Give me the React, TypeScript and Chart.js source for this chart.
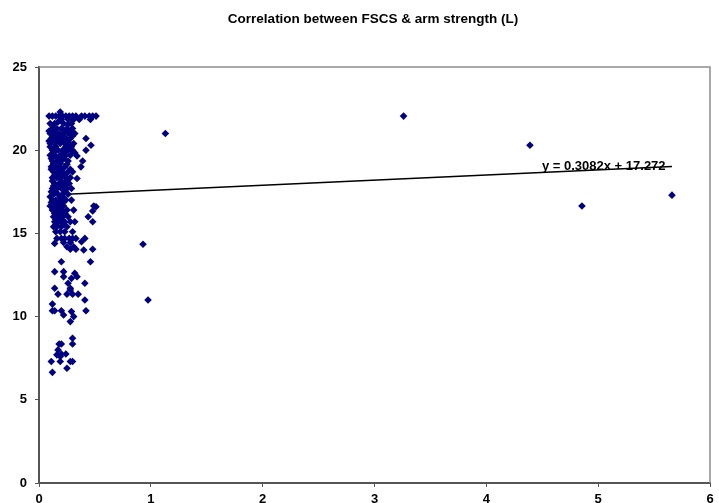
import React, { useEffect, useRef } from "react";
import { Chart, registerables } from "chart.js";

Chart.register(...registerables);

const TITLE = "Correlation between FSCS & arm strength (L)";

// Dense upper group: [FSCS, arm strength]
const upperGroup: [number, number][] = [
  [0.19, 22.3],
  [0.09, 22.05], [0.12, 22.05], [0.15, 22.05], [0.18, 22.05], [0.21, 22.05], [0.24, 22.05], [0.27, 22.05],
  [0.3, 22.05], [0.33, 22.05], [0.38, 22.05], [0.41, 22.05], [0.45, 22.05], [0.48, 22.05], [0.51, 22.05],
  [0.2, 21.85], [0.26, 21.85], [0.31, 21.85], [0.36, 21.85], [0.46, 21.85],
  [0.1, 21.6], [0.14, 21.6], [0.22, 21.6], [0.29, 21.6], [0.17, 21.7], [0.26, 21.55],
  [0.12, 21.3], [0.16, 21.3], [0.2, 21.3], [0.25, 21.3], [0.3, 21.3],
  [0.09, 21.15], [0.14, 21.15], [0.23, 21.15], [0.28, 21.15],
  [0.1, 21.0], [0.13, 21.0], [0.18, 21.0], [0.22, 21.0], [0.26, 21.0], [0.29, 21.0], [0.32, 21.0],
  [0.12, 20.85], [0.17, 20.85], [0.21, 20.85], [0.3, 20.85],
  [0.11, 20.7], [0.15, 20.7], [0.2, 20.7], [0.24, 20.7], [0.28, 20.7], [0.42, 20.7],
  [0.09, 20.55], [0.13, 20.55], [0.17, 20.55], [0.22, 20.55], [0.26, 20.55],
  [0.1, 20.4], [0.14, 20.4], [0.19, 20.4], [0.23, 20.4], [0.27, 20.4], [0.31, 20.4], [0.465, 20.3],
  [0.1, 20.2], [0.15, 20.2], [0.24, 20.2], [0.29, 20.2],
  [0.12, 20.0], [0.17, 20.0], [0.21, 20.0], [0.26, 20.0], [0.3, 20.0], [0.42, 20.0],
  [0.13, 19.85], [0.22, 19.85], [0.32, 19.85],
  [0.1, 19.7], [0.14, 19.7], [0.19, 19.7], [0.24, 19.7], [0.28, 19.7], [0.34, 19.65],
  [0.11, 19.5], [0.17, 19.5], [0.22, 19.5],
  [0.12, 19.35], [0.16, 19.35], [0.2, 19.35], [0.26, 19.35], [0.39, 19.35],
  [0.13, 19.2], [0.19, 19.2], [0.25, 19.15],
  [0.11, 19.0], [0.15, 19.0], [0.18, 19.0], [0.23, 19.0], [0.375, 19.0],
  [0.11, 18.85], [0.2, 18.85], [0.28, 18.85],
  [0.13, 18.7], [0.17, 18.7], [0.21, 18.7], [0.26, 18.7], [0.3, 18.7],
  [0.14, 18.5], [0.19, 18.5], [0.23, 18.5],
  [0.12, 18.35], [0.16, 18.35], [0.19, 18.35], [0.24, 18.35], [0.28, 18.35], [0.34, 18.3],
  [0.12, 18.15], [0.2, 18.15], [0.25, 18.2],
  [0.14, 18.0], [0.18, 18.0], [0.22, 18.0], [0.27, 18.0],
  [0.13, 17.85], [0.19, 17.85], [0.23, 17.85],
  [0.12, 17.7], [0.16, 17.7], [0.2, 17.7], [0.25, 17.7], [0.29, 17.7],
  [0.11, 17.5], [0.15, 17.5], [0.23, 17.5],
  [0.13, 17.35], [0.17, 17.35], [0.21, 17.35], [0.26, 17.35],
  [0.1, 17.2], [0.19, 17.2], [0.22, 17.15],
  [0.12, 17.0], [0.15, 17.0], [0.19, 17.0], [0.24, 17.0], [0.29, 17.0],
  [0.11, 16.85], [0.17, 16.85], [0.21, 16.85],
];

// Middle group
const middleGroup: [number, number][] = [
  [0.1, 16.65], [0.14, 16.65], [0.18, 16.65], [0.22, 16.65], [0.49, 16.65],
  [0.12, 16.4], [0.16, 16.4], [0.2, 16.4], [0.25, 16.4], [0.31, 16.4], [0.48, 16.35], [0.51, 16.6],
  [0.14, 16.2], [0.19, 16.2], [0.23, 16.2],
  [0.13, 16.0], [0.17, 16.0], [0.21, 16.0], [0.26, 16.0], [0.44, 16.0],
  [0.15, 15.85], [0.2, 15.85],
  [0.14, 15.7], [0.19, 15.7], [0.23, 15.7], [0.28, 15.7], [0.32, 15.7], [0.48, 15.7],
  [0.15, 15.55], [0.22, 15.55],
  [0.13, 15.4], [0.16, 15.4], [0.2, 15.4], [0.25, 15.4],
  [0.15, 15.1], [0.19, 15.1], [0.23, 15.1], [0.3, 15.1],
  [0.16, 14.7], [0.2, 14.7], [0.23, 14.7], [0.27, 14.7], [0.3, 14.7], [0.33, 14.7], [0.41, 14.7],
  [0.14, 14.4], [0.22, 14.45], [0.28, 14.45], [0.38, 14.5],
  [0.25, 14.2], [0.31, 14.2],
  [0.28, 14.05], [0.33, 14.05], [0.4, 14.0], [0.48, 14.05],
];

// Lower group
const lowerGroup: [number, number][] = [
  [0.2, 13.3], [0.46, 13.3],
  [0.14, 12.7], [0.22, 12.7], [0.22, 12.4], [0.32, 12.6], [0.34, 12.4], [0.29, 12.3],
  [0.26, 12.0], [0.41, 12.0], [0.14, 11.7], [0.28, 11.7], [0.28, 11.6],
  [0.17, 11.35], [0.25, 11.35], [0.3, 11.35], [0.35, 11.35], [0.41, 11.0],
  [0.12, 10.75], [0.12, 10.35], [0.14, 10.35], [0.2, 10.35], [0.22, 10.1], [0.29, 10.3],
  [0.31, 10.0], [0.28, 9.7], [0.42, 10.35],
  [0.3, 8.7], [0.3, 8.35], [0.2, 8.35], [0.18, 8.35], [0.17, 8.0], [0.16, 7.7], [0.19, 7.6],
  [0.24, 7.75], [0.2, 7.75], [0.11, 7.3], [0.19, 7.3], [0.28, 7.3], [0.3, 7.3], [0.25, 6.9], [0.12, 6.65],
];

// Isolated points
const outliers: [number, number][] = [
  [1.13, 21.0], [3.26, 22.05], [4.39, 20.3], [4.855, 16.65], [5.66, 17.3], [0.93, 14.35], [0.975, 11.0],
];

// Linear trend
const trendSlope = 0.3082;
const trendIntercept = 17.272;
const trendRange = [0.1, 5.66];
const trendLabel = "y = 0.3082x + 17.272";
const trendLabelAt = [5.05, 19.0];

const xTicks = [0, 1, 2, 3, 4, 5, 6];
const yTicks = [0, 5, 10, 15, 20, 25];

const FONT = "'Liberation Sans', Arial, sans-serif";

export default function App() {
  const canvasRef = useRef<HTMLCanvasElement | null>(null);

  useEffect(() => {
    document.body.style.margin = "0";
    const canvas = canvasRef.current;
    if (!canvas) return;

    const points = [...upperGroup, ...middleGroup, ...lowerGroup, ...outliers].map(([x, y]) => ({ x, y }));
    const trend = trendRange.map((x) => ({ x, y: trendSlope * x + trendIntercept }));

    const decor = {
      id: "decor",
      beforeDatasetsDraw(chart: any) {
        const { ctx, chartArea: a } = chart;
        ctx.save();
        ctx.strokeStyle = "#8c8c8c";
        ctx.lineWidth = 1.5;
        ctx.beginPath();
        ctx.moveTo(a.left, a.top);
        ctx.lineTo(a.right, a.top);
        ctx.lineTo(a.right, a.bottom);
        ctx.stroke();
        ctx.restore();
      },
      afterDraw(chart: any) {
        const { ctx, scales } = chart;
        ctx.save();
        ctx.fillStyle = "#000";
        ctx.textAlign = "center";
        ctx.textBaseline = "middle";
        ctx.font = `bold 13.5px ${FONT}`;
        ctx.fillText(TITLE, 373, 19);
        ctx.font = `bold 13px ${FONT}`;
        ctx.fillText(
          trendLabel,
          scales.x.getPixelForValue(trendLabelAt[0]),
          scales.y.getPixelForValue(trendLabelAt[1])
        );
        ctx.restore();
      },
    };

    const chart = new Chart(canvas, {
      type: "scatter",
      data: {
        datasets: [
          {
            type: "scatter",
            data: points,
            pointStyle: "rectRot",
            pointRadius: 3.8,
            pointBackgroundColor: "#000080",
            pointBorderColor: "#000080",
            pointBorderWidth: 0,
          },
          {
            type: "line",
            data: trend,
            borderColor: "#000",
            borderWidth: 1.5,
            pointRadius: 0,
            fill: false,
          } as any,
        ],
      },
      plugins: [decor],
      options: {
        responsive: false,
        animation: false,
        devicePixelRatio: 1,
        layout: { padding: { top: 67, right: 9, left: 0, bottom: 0 } },
        plugins: {
          legend: { display: false },
          tooltip: { enabled: false },
          title: { display: false },
        },
        scales: {
          x: {
            type: "linear",
            min: 0,
            max: 6,
            afterBuildTicks: (s: any) => {
              s.ticks = xTicks.map((v) => ({ value: v }));
            },
            afterFit: (s: any) => {
              s.height = 20;
            },
            ticks: {
              color: "#000",
              font: { family: FONT, size: 13, weight: "bold" },
              padding: 5,
              maxRotation: 0,
            },
            grid: { drawOnChartArea: false, drawTicks: true, tickLength: 4, color: "#555" },
            border: { display: true, color: "#555", width: 2 },
          },
          y: {
            type: "linear",
            min: 0,
            max: 25,
            afterBuildTicks: (s: any) => {
              s.ticks = yTicks.map((v) => ({ value: v }));
            },
            afterFit: (s: any) => {
              s.width = 39;
            },
            ticks: {
              color: "#000",
              font: { family: FONT, size: 13, weight: "bold" },
              padding: 8,
            },
            grid: { drawOnChartArea: false, drawTicks: true, tickLength: 4, color: "#555" },
            border: { display: true, color: "#555", width: 2 },
          },
        },
      },
    });

    return () => chart.destroy();
  }, []);

  return (
    <div style={{ width: 719, height: 503, background: "#fff" }}>
      <canvas ref={canvasRef} width={719} height={503} />
    </div>
  );
}
